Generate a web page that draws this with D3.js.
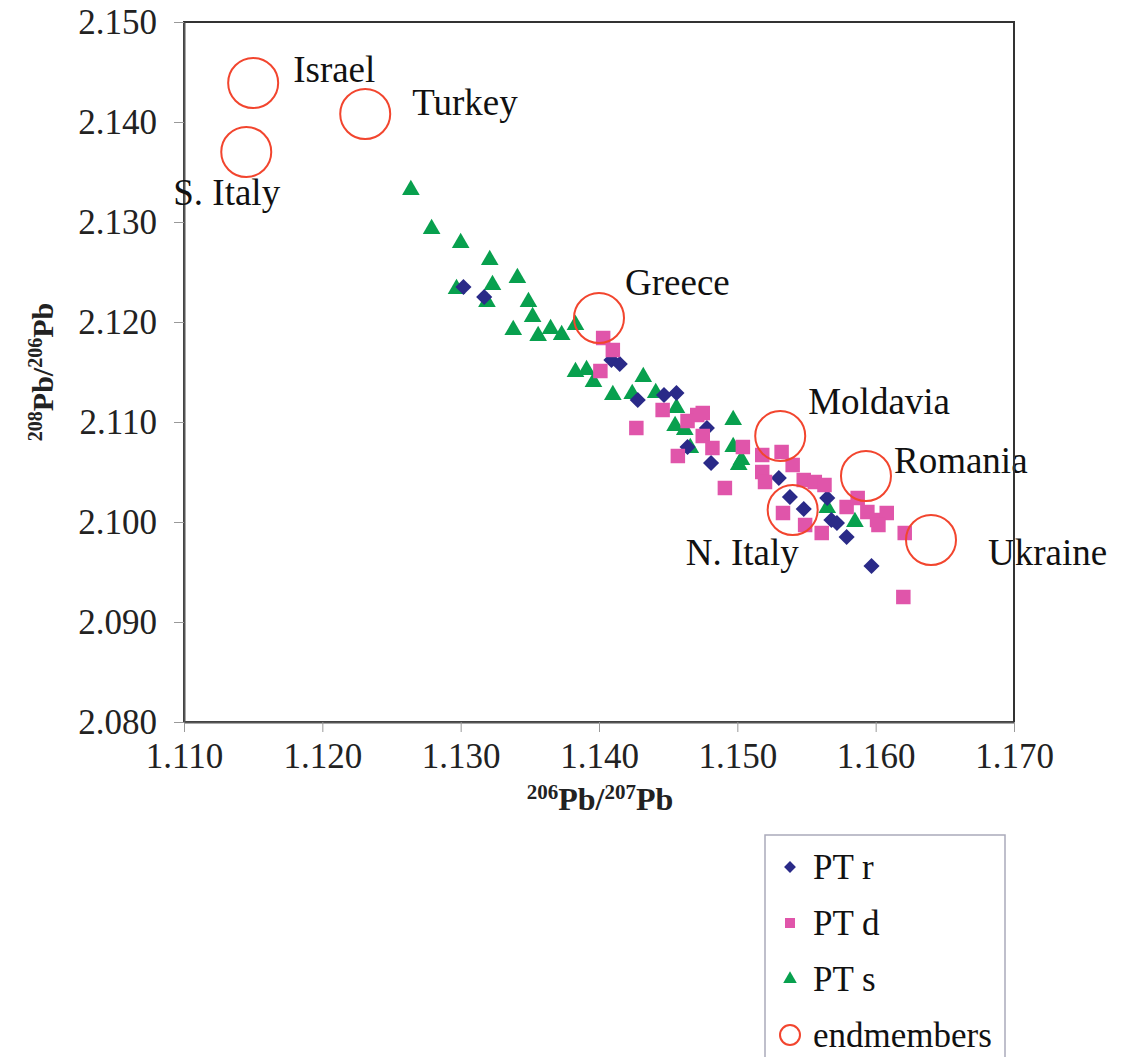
<!DOCTYPE html>
<html>
<head>
<meta charset="utf-8">
<script src="https://cdn.jsdelivr.net/npm/d3@7"></script>
<style>
  body { margin: 0; background: #fff; }
  svg { font-family: "Liberation Serif", "Times New Roman", serif; }
</style>
</head>
<body>
<div id="app"></div>
<script>
// 206Pb/207Pb (x) and 208Pb/206Pb (y)
const ptR = [
  [1.1302, 2.1235], [1.1317, 2.1225], [1.1409, 2.1162], [1.1415, 2.1158],
  [1.1428, 2.1122], [1.1447, 2.1127], [1.1456, 2.1129], [1.1478, 2.1094],
  [1.1464, 2.1075], [1.1481, 2.1059], [1.1530, 2.1044], [1.1538, 2.1025],
  [1.1548, 2.1013], [1.1565, 2.1024], [1.1568, 2.1002], [1.1572, 2.0999],
  [1.1579, 2.0985], [1.1597, 2.0956]
];
const ptD = [
  [1.1403, 2.1184], [1.1410, 2.1172], [1.1401, 2.1151], [1.1446, 2.1112],
  [1.1427, 2.1094], [1.1471, 2.1107], [1.1464, 2.1101], [1.1475, 2.1109],
  [1.1475, 2.1086], [1.1482, 2.1074], [1.1457, 2.1066], [1.1504, 2.1075],
  [1.1491, 2.1034], [1.1518, 2.1067], [1.1532, 2.1070], [1.1540, 2.1057],
  [1.1518, 2.1050], [1.1520, 2.1040], [1.1548, 2.1042], [1.1556, 2.1040],
  [1.1563, 2.1037], [1.1533, 2.1009], [1.1549, 2.0997], [1.1561, 2.0989],
  [1.1579, 2.1015], [1.1587, 2.1024], [1.1594, 2.1010], [1.1601, 2.1002],
  [1.1608, 2.1009], [1.1602, 2.0997], [1.1621, 2.0989], [1.1620, 2.0925]
];
const ptS = [
  [1.1264, 2.1332], [1.1279, 2.1293], [1.1300, 2.1279], [1.1321, 2.1262],
  [1.1341, 2.1244], [1.1297, 2.1233], [1.1323, 2.1237], [1.1319, 2.1220],
  [1.1349, 2.1220], [1.1352, 2.1205], [1.1338, 2.1192], [1.1356, 2.1186],
  [1.1365, 2.1193], [1.1373, 2.1187], [1.1383, 2.1197], [1.1383, 2.1150],
  [1.1391, 2.1152], [1.1396, 2.1140], [1.1410, 2.1127], [1.1424, 2.1128],
  [1.1432, 2.1145], [1.1441, 2.1129], [1.1456, 2.1114], [1.1455, 2.1096],
  [1.1462, 2.1092], [1.1466, 2.1074], [1.1497, 2.1102], [1.1497, 2.1075],
  [1.1503, 2.1062], [1.1501, 2.1057], [1.1565, 2.1014], [1.1585, 2.1000]
];
const endNames = ["Israel", "Turkey", "S. Italy", "Greece", "Moldavia", "Romania", "N. Italy", "Ukraine"];
const endX = [1.1150, 1.1231, 1.1145, 1.1400, 1.1531, 1.1593, 1.1540, 1.1640];
const endY = [2.1439, 2.1408, 2.1370, 2.1204, 2.1086, 2.1046, 2.1012, 2.0982];
// label offsets from the circle centre, in px
const labelDx = [40, 47, -73, 26, 28, 28, -107, 57];
const labelDy = [-1, 1, 53, -23, -22, -3, 55, 25];

const xTicks = [1.110, 1.120, 1.130, 1.140, 1.150, 1.160, 1.170];
const yTicks = [2.080, 2.090, 2.100, 2.110, 2.120, 2.130, 2.140, 2.150];
const legendNames = ["PT r", "PT d", "PT s", "endmembers"];

const colR = "#2a2a88", colD = "#e055aa", colS = "#08a04e", colE = "#f2452e";

const W = 1124, H = 1057;
const mLeft = 184, mTop = 22, pw = 830, ph = 700;

const svg = d3.select("#app").append("svg")
  .attr("width", W).attr("height", H);

const x = d3.scaleLinear().domain([1.110, 1.170]).range([mLeft, mLeft + pw]);
const y = d3.scaleLinear().domain([2.080, 2.150]).range([mTop + ph, mTop]);

// plot frame
svg.append("rect")
  .attr("x", mLeft).attr("y", mTop).attr("width", pw).attr("height", ph)
  .attr("fill", "none").attr("stroke", "#333").attr("stroke-width", 2);

const xAxis = svg.append("g")
  .attr("transform", "translate(0," + (mTop + ph) + ")")
  .call(d3.axisBottom(x).tickValues(xTicks).tickFormat(d3.format(".3f")).tickSize(10).tickSizeOuter(0).tickPadding(11));
const yAxis = svg.append("g")
  .attr("transform", "translate(" + mLeft + ",0)")
  .call(d3.axisLeft(y).tickValues(yTicks).tickFormat(d3.format(".3f")).tickSize(10).tickSizeOuter(0).tickPadding(17));

[xAxis, yAxis].forEach(g => {
  g.select(".domain").attr("stroke", "#555").attr("stroke-width", 2);
  g.selectAll(".tick line").attr("stroke", "#999");
  g.selectAll(".tick text")
    .attr("fill", "#222")
    .style("font-family", "'Liberation Serif', serif")
    .style("font-size", "35px");
});

// axis titles
const xt = svg.append("text")
  .attr("x", 600).attr("y", 810)
  .attr("text-anchor", "middle")
  .style("font-weight", "bold").style("font-size", "32px").attr("fill", "#222");
xt.append("tspan").attr("dy", -11).style("font-size", "21px").text("206");
xt.append("tspan").attr("dy", 11).text("Pb/");
xt.append("tspan").attr("dy", -11).style("font-size", "21px").text("207");
xt.append("tspan").attr("dy", 11).text("Pb");

const yt = svg.append("text")
  .attr("transform", "translate(53,372) rotate(-90)")
  .attr("text-anchor", "middle")
  .style("font-weight", "bold").style("font-size", "30px").attr("fill", "#222");
yt.append("tspan").attr("dy", -11).style("font-size", "20px").text("208");
yt.append("tspan").attr("dy", 11).text("Pb/");
yt.append("tspan").attr("dy", -11).style("font-size", "20px").text("206");
yt.append("tspan").attr("dy", 11).text("Pb");

// data marks
const diamond = d3.symbol().type(d3.symbolSquare).size(130);
const square = d3.symbol().type(d3.symbolSquare).size(210);
const tri = d3.symbol().type(d3.symbolTriangle).size(135);

svg.append("g").selectAll("path")
  .data(ptS).enter().append("path")
  .attr("d", tri)
  .attr("transform", d => "translate(" + x(d[0]) + "," + y(d[1]) + ")")
  .attr("fill", colS);

svg.append("g").selectAll("path")
  .data(ptR).enter().append("path")
  .attr("d", diamond)
  .attr("transform", d => "translate(" + x(d[0]) + "," + y(d[1]) + ") rotate(45)")
  .attr("fill", colR);

svg.append("g").selectAll("path")
  .data(ptD).enter().append("path")
  .attr("d", square)
  .attr("transform", d => "translate(" + x(d[0]) + "," + y(d[1]) + ")")
  .attr("fill", colD);

// endmembers
const ends = endNames.map((n, i) => ({ name: n, x: endX[i], y: endY[i], dx: labelDx[i], dy: labelDy[i] }));
svg.append("g").selectAll("circle")
  .data(ends).enter().append("circle")
  .attr("cx", d => x(d.x)).attr("cy", d => y(d.y)).attr("r", 25)
  .attr("fill", "none").attr("stroke", colE).attr("stroke-width", 2);

svg.append("g").selectAll("text")
  .data(ends).enter().append("text")
  .attr("x", d => x(d.x) + d.dx).attr("y", d => y(d.y) + d.dy)
  .style("font-size", "37px").attr("fill", "#111")
  .text(d => d.name);

// redraw the right edge of the frame over the labels
svg.append("line")
  .attr("x1", mLeft + pw).attr("x2", mLeft + pw).attr("y1", mTop).attr("y2", mTop + ph)
  .attr("stroke", "#333").attr("stroke-width", 2);

// legend
const lg = svg.append("g").attr("transform", "translate(765,835)");
lg.append("rect").attr("width", 240).attr("height", 240)
  .attr("fill", "#fff").attr("stroke", "#aab").attr("stroke-width", 1.5);
const legendSym = [
  d3.symbol().type(d3.symbolSquare).size(70),
  d3.symbol().type(d3.symbolSquare).size(100),
  d3.symbol().type(d3.symbolTriangle).size(80),
  null
];
const legendCol = [colR, colD, colS, colE];
legendNames.forEach((name, i) => {
  const cy = 32 + i * 56;
  if (legendSym[i]) {
    lg.append("path").attr("d", legendSym[i])
      .attr("transform", "translate(25," + cy + ")" + (i === 0 ? " rotate(45)" : ""))
      .attr("fill", legendCol[i]);
  } else {
    lg.append("circle").attr("cx", 25).attr("cy", cy).attr("r", 10)
      .attr("fill", "none").attr("stroke", colE).attr("stroke-width", 2);
  }
  lg.append("text").attr("x", 48).attr("y", cy + 12)
    .style("font-size", "35px").attr("fill", "#111").text(name);
});
</script>
</body>
</html>
